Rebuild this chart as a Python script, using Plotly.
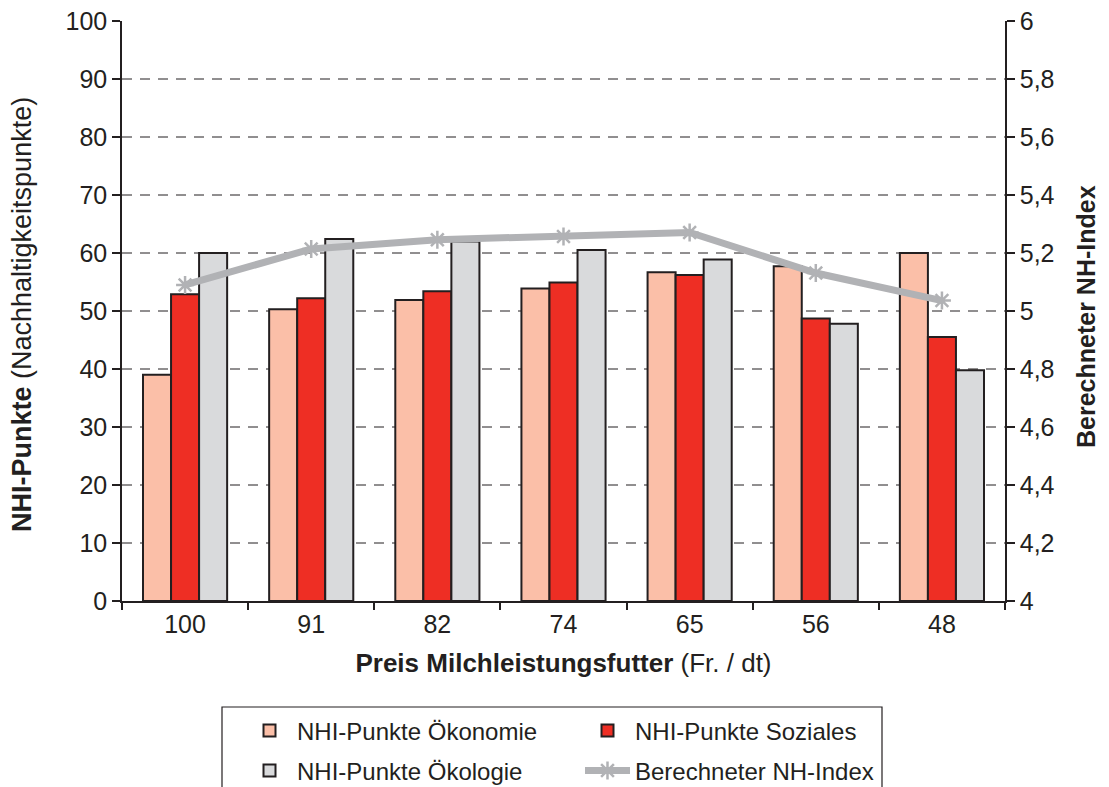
import plotly.graph_objects as go

categories = ["100", "91", "82", "74", "65", "56", "48"]
oekonomie = [39.0, 50.3, 51.9, 53.9, 56.7, 57.7, 60.0]
soziales = [52.9, 52.2, 53.4, 54.9, 56.2, 48.7, 45.5]
oekologie = [60.0, 62.4, 62.0, 60.5, 58.9, 47.8, 39.8]
nh_index = [5.09, 5.214, 5.246, 5.257, 5.271, 5.131, 5.036]
grid_values = [10, 20, 30, 40, 50, 60, 70, 80, 90]

FONT = "Liberation Sans, Arial, Helvetica, sans-serif"
DARK = "#231f20"
outline = dict(color=DARK, width=2)

fig = go.Figure()
fig.add_trace(go.Bar(x=categories, y=oekonomie, name="NHI-Punkte Ökonomie",
                     marker=dict(color="#fbbfa8", line=outline), legend="legend"))
fig.add_trace(go.Bar(x=categories, y=soziales, name="NHI-Punkte Soziales",
                     marker=dict(color="#ee2e24", line=outline), legend="legend"))
fig.add_trace(go.Bar(x=categories, y=oekologie, name="NHI-Punkte Ökologie",
                     marker=dict(color="#d9dadc", line=outline), legend="legend2"))
fig.add_trace(go.Scatter(x=categories, y=nh_index, name="Berechneter NH-Index",
                         yaxis="y2", mode="lines+markers", legend="legend2",
                         line=dict(color="#b1b2b5", width=7),
                         marker=dict(symbol="asterisk-open", size=15,
                                     color="#b1b2b5",
                                     line=dict(color="#b1b2b5", width=2.5))))

for g in grid_values:
    fig.add_shape(type="line", xref="paper", x0=0, x1=1, yref="y", y0=g, y1=g,
                  line=dict(color=DARK, width=1, dash="10px,8px"), layer="below")

# plot area on screen: x 122..1005, y 21..601 (page has an 8px body margin)
PX0, PW, PY1, PH = 122, 883, 601, 580

# legend frame
fig.add_shape(type="rect", xref="paper", yref="paper",
              x0=(222 - PX0) / PW, x1=(882 - PX0) / PW,
              y0=(PY1 - 800) / PH, y1=(PY1 - 707) / PH,
              line=dict(color=DARK, width=1.2), fillcolor="rgba(0,0,0,0)")

# axis titles as rotated annotations (precise placement)
fig.add_annotation(text="<b>NHI-Punkte</b> (Nachhaltigkeitspunkte)",
                   textangle=-90, showarrow=False, xref="paper", yref="paper",
                   x=(22 - PX0) / PW, y=(PY1 - 315) / PH,
                   xanchor="center", yanchor="middle",
                   font=dict(size=27, family=FONT, color=DARK))
fig.add_annotation(text="<b>Berechneter NH-Index</b>",
                   textangle=-90, showarrow=False, xref="paper", yref="paper",
                   x=(1086 - PX0) / PW, y=(PY1 - 317) / PH,
                   xanchor="center", yanchor="middle",
                   font=dict(size=25, family=FONT, color=DARK))

leg_common = dict(orientation="h", xanchor="left", yanchor="middle",
                  bgcolor="rgba(0,0,0,0)", borderwidth=0,
                  font=dict(size=24, family=FONT, color=DARK),
                  entrywidth=278, entrywidthmode="pixels", itemwidth=45,
                  traceorder="normal")

fig.update_layout(
    width=1101, height=779,
    margin=dict(l=114, r=104, t=13, b=186, autoexpand=False),
    plot_bgcolor="white", paper_bgcolor="white",
    font=dict(family=FONT, size=25, color=DARK),
    separators=",.",
    barmode="group", bargap=0.333, bargroupgap=0,
    showlegend=True,
    legend=dict(x=(242 - PX0) / PW, y=(PY1 - 731) / PH, **leg_common),
    legend2=dict(x=(242 - PX0) / PW, y=(PY1 - 771) / PH, **leg_common),
    xaxis=dict(type="category", showline=True, linecolor=DARK, linewidth=1.5,
               ticks="outside", tickson="boundaries", ticklen=7, tickcolor=DARK,
               tickwidth=1.5, automargin=False,
               tickfont=dict(size=25),
               title=dict(text="<b>Preis Milchleistungsfutter</b> (Fr. / dt)",
                          font=dict(size=26), standoff=17)),
    yaxis=dict(range=[0, 100], dtick=10, showgrid=False, zeroline=False,
               showline=True, linecolor=DARK, linewidth=1.5, automargin=False,
               ticks="outside", ticklen=8, tickcolor=DARK, tickwidth=1.5,
               ticklabeloverflow="allow",
               tickfont=dict(size=25)),
    yaxis2=dict(range=[4, 6], dtick=0.2, overlaying="y", side="right",
                showgrid=False, zeroline=False, automargin=False,
                showline=True, linecolor=DARK, linewidth=1.5,
                ticks="outside", ticklen=8, tickcolor=DARK, tickwidth=1.5,
                ticklabeloverflow="allow",
                tickfont=dict(size=25)),
)

fig.write_html("out.html")
